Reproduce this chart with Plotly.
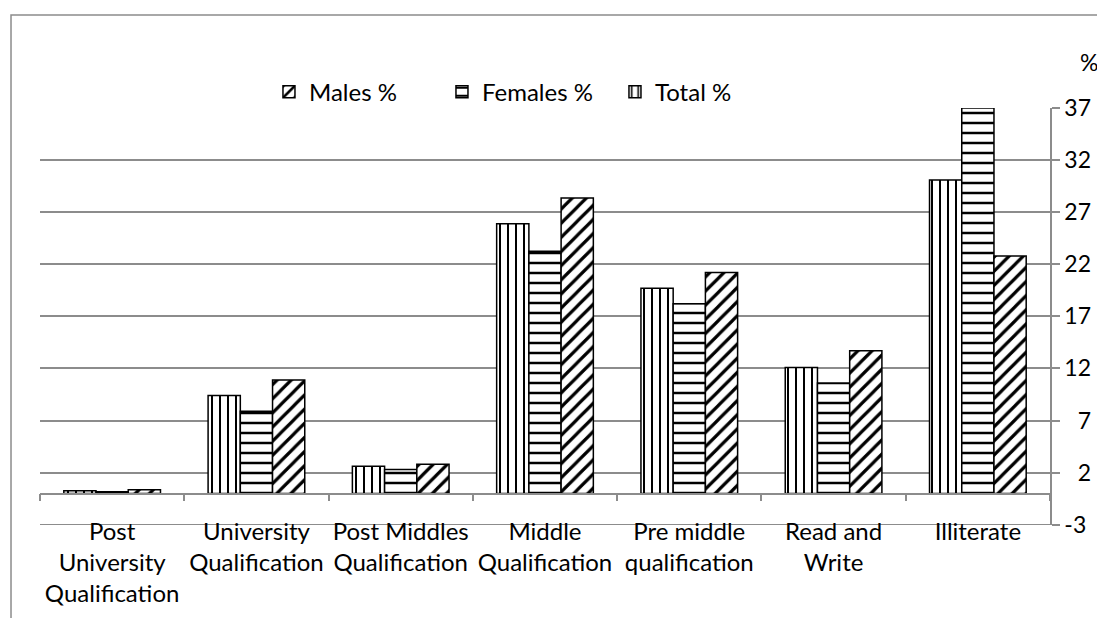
import plotly.graph_objects as go

categories = [
    "Post<br>University<br>Qualification",
    "University<br>Qualification",
    "Post Middles<br>Qualification",
    "Middle<br>Qualification",
    "Pre middle<br>qualification",
    "Read and<br>Write",
    "Illiterate",
]
total_pct = [0.25, 9.4, 2.6, 25.9, 19.7, 12.1, 30.1]
females_pct = [0.15, 7.9, 2.3, 23.25, 18.2, 10.6, 37.0]
males_pct = [0.35, 10.9, 2.8, 28.35, 21.2, 13.7, 22.8]
y_ticks = [-3, 2, 7, 12, 17, 22, 27, 32, 37]

FONT = "Lato, 'Open Sans', sans-serif"
GRID = "#8c8c8c"


def main():
    fig = go.Figure()

    series = [
        ("Total %", total_pct, "|", 8, 0.25),
        ("Females %", females_pct, "-", 10, 0.25),
        ("Males %", males_pct, "/", 10, 0.32),
    ]
    for name, vals, shape, size, solidity in series:
        fig.add_trace(go.Bar(
            name=name,
            x=categories,
            y=vals,
            marker=dict(
                color="white",
                line=dict(color="black", width=1.5),
                pattern=dict(shape=shape, fgcolor="black", bgcolor="white",
                             size=size, solidity=solidity, fillmode="replace"),
            ),
        ))

    # axis line crossing at zero, with boundary ticks
    fig.add_trace(go.Scatter(x=categories, y=[0] * len(categories), xaxis="x2",
                             mode="none", showlegend=False, hoverinfo="skip"))

    # right-aligned tick labels (figure space pads single digits), plain hyphen
    tick_text = [str(v).rjust(2, "\u2007") for v in y_ticks]

    # page body has an 8px margin, so the figure is a bit smaller
    fig.update_layout(
        width=1097,
        height=610,
        barmode="group",
        bargap=0.33,
        bargroupgap=0,
        paper_bgcolor="white",
        plot_bgcolor="white",
        font=dict(family=FONT, size=24, color="black"),
        margin=dict(l=32, r=55, t=100, b=93, autoexpand=False),
        legend=dict(
            orientation="h",
            traceorder="reversed",
            x=0.2267, xanchor="left",
            y=1.038, yanchor="middle",
            font=dict(size=24),
            itemwidth=30,
            entrywidth=128,
            bgcolor="rgba(0,0,0,0)",
        ),
        xaxis=dict(
            type="category",
            categoryarray=categories,
            range=[-0.5, 6.5],
            showline=False,
            showgrid=False,
            ticks="",
            ticklabelstandoff=-10,
            tickfont=dict(size=24),
        ),
        xaxis2=dict(
            type="category",
            categoryarray=categories,
            range=[-0.5, 6.5],
            overlaying="x",
            anchor="free",
            position=3 / 40,
            side="bottom",
            showline=True,
            linecolor=GRID,
            linewidth=1.5,
            ticks="outside",
            tickson="boundaries",
            ticklen=7,
            tickcolor=GRID,
            tickwidth=1.5,
            showticklabels=False,
            showgrid=False,
        ),
        yaxis=dict(
            side="right",
            range=[-3.03, 37],
            tickvals=y_ticks,
            ticktext=tick_text,
            showgrid=True,
            gridcolor=GRID,
            gridwidth=1.5,
            zeroline=False,
            showline=True,
            linecolor=GRID,
            linewidth=1.5,
            ticks="outside",
            ticklen=8,
            tickcolor=GRID,
            tickwidth=1.5,
            tickfont=dict(size=23),
        ),
        showlegend=True,
    )

    fig.add_annotation(text="%", xref="paper", yref="paper", x=1.0495, y=1.11,
                       xanchor="right", yanchor="middle", showarrow=False,
                       font=dict(size=23))

    # bottom gridline (plotly skips it at the range edge)
    fig.add_shape(type="line", xref="paper", yref="y",
                  x0=0, x1=1.0079, y0=y_ticks[0], y1=y_ticks[0],
                  line=dict(color=GRID, width=1.5), layer="below")

    # chart area frame (clipped at right and bottom)
    fig.add_shape(type="rect", xref="paper", yref="paper",
                  x0=-0.0287, y0=-0.5, x1=1.2, y1=1.223,
                  line=dict(color=GRID, width=1.5), layer="below")

    fig.write_html("out.html")


if __name__ == "__main__":
    main()
